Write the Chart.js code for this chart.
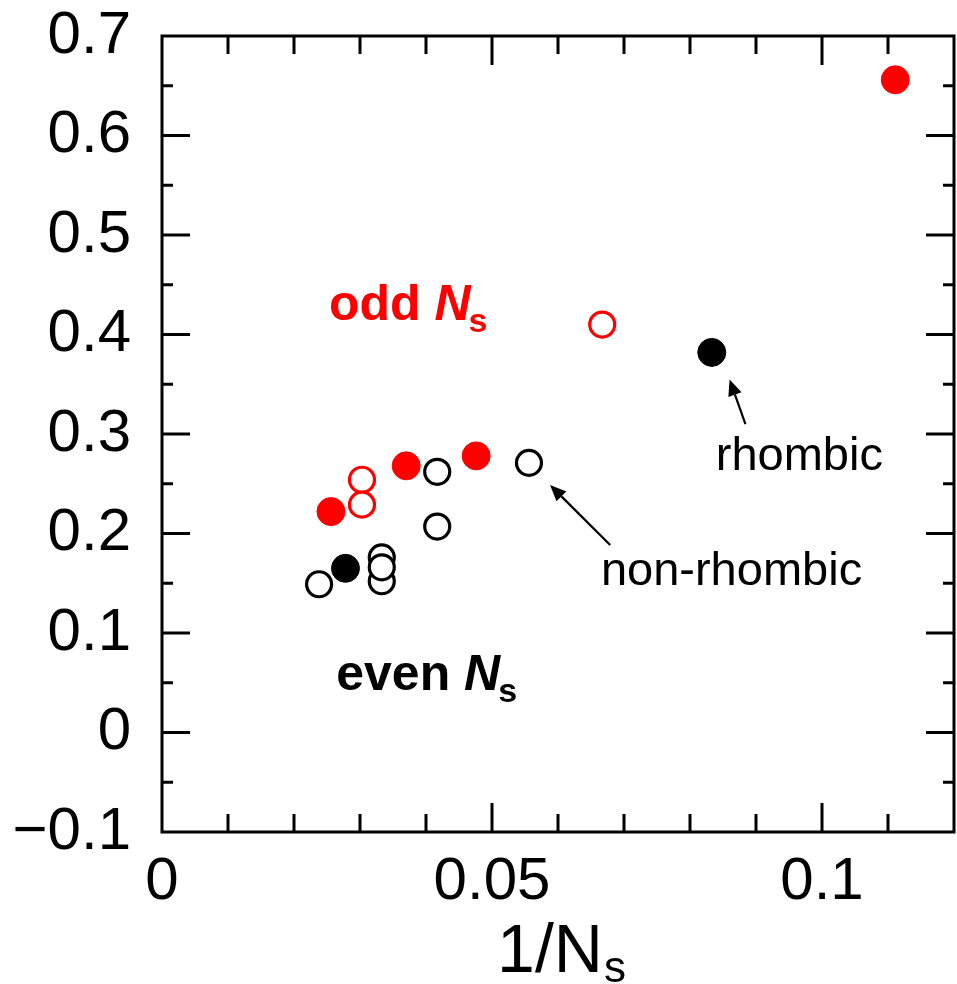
<!DOCTYPE html>
<html>
<head>
<meta charset="utf-8">
<script src="https://cdn.jsdelivr.net/npm/chart.js@4.4.1/dist/chart.umd.min.js"></script>
<style>
  html, body { margin: 0; padding: 0; background: #fff; }
  #wrap { width: 957px; height: 984px; }
</style>
</head>
<body>
<div id="wrap"><canvas id="c" width="957" height="984"></canvas></div>
<script>
// 1/N_s values and gap values for each group of clusters
const oddFilledX  = [0.1111, 0.0256, 0.0370, 0.0476];
const oddFilledY  = [0.656, 0.222, 0.268, 0.278];
const oddOpenX    = [0.0667, 0.0303, 0.0303];
const oddOpenY    = [0.410, 0.254, 0.229];
const evenFilledX = [0.0833, 0.0278];
const evenFilledY = [0.382, 0.165];
const evenOpenX   = [0.0556, 0.0417, 0.0417, 0.0238, 0.0333, 0.0333, 0.0333];
const evenOpenY   = [0.271, 0.262, 0.207, 0.149, 0.176, 0.152, 0.166];

// axis ticks
const xTickValues = [0, 0.05, 0.1];
const xTickLabels = ['0', '0.05', '0.1'];
const yTickValues = [-0.1, 0, 0.1, 0.2, 0.3, 0.4, 0.5, 0.6, 0.7];
const yTickLabels = ['\u22120.1', '0', '0.1', '0.2', '0.3', '0.4', '0.5', '0.6', '0.7'];

const RED = '#ff0000';
const BLACK = '#000000';
const FONT = '"Liberation Sans", Arial, sans-serif';

const pts = (xs, ys) => xs.map((x, i) => ({ x: x, y: ys[i] }));

// frame with inward ticks on all four sides
const framePlugin = {
  id: 'frame',
  beforeDatasetsDraw(chart) {
    const { ctx, chartArea: a, scales: { x, y } } = chart;
    ctx.save();
    ctx.strokeStyle = '#000';
    ctx.lineWidth = 3;
    ctx.lineCap = 'butt';
    ctx.strokeRect(a.left, a.top, a.right - a.left, a.bottom - a.top);
    ctx.beginPath();
    for (let k = 1; k <= 11; k++) {
      const px = x.getPixelForValue(k / 100);
      const len = (k % 5 === 0) ? 29 : 18;
      ctx.moveTo(px, a.bottom); ctx.lineTo(px, a.bottom - len);
      ctx.moveTo(px, a.top); ctx.lineTo(px, a.top + len);
    }
    for (let k = -1; k <= 13; k++) {
      const py = y.getPixelForValue(k * 0.05);
      const len = (k % 2 === 0) ? 28 : 11;
      ctx.moveTo(a.left, py); ctx.lineTo(a.left + len, py);
      ctx.moveTo(a.right, py); ctx.lineTo(a.right - len, py);
    }
    ctx.stroke();
    ctx.restore();
  }
};

function arrow(ctx, x1, y1, x2, y2) {
  const ang = Math.atan2(y2 - y1, x2 - x1);
  const hl = 16, hw = 7;
  const bx = x2 - hl * Math.cos(ang), by = y2 - hl * Math.sin(ang);
  ctx.beginPath();
  ctx.moveTo(x1, y1); ctx.lineTo(bx, by);
  ctx.stroke();
  ctx.beginPath();
  ctx.moveTo(x2, y2);
  ctx.lineTo(bx + hw * Math.sin(ang), by - hw * Math.cos(ang));
  ctx.lineTo(bx - hw * Math.sin(ang), by + hw * Math.cos(ang));
  ctx.closePath();
  ctx.fill();
}

// group label such as "odd N_s": plain word, italic N, subscript s
function groupLabel(ctx, px, py, word, color) {
  ctx.fillStyle = color;
  ctx.textAlign = 'left';
  ctx.textBaseline = 'alphabetic';
  ctx.font = 'bold 50px ' + FONT;
  ctx.fillText(word + ' ', px, py);
  let cx = px + ctx.measureText(word + ' ').width;
  ctx.font = 'italic bold 50px ' + FONT;
  ctx.fillText('N', cx, py);
  cx += ctx.measureText('N').width;
  ctx.font = 'bold 34px ' + FONT;
  ctx.fillText('s', cx - 2, py + 12);
}

const labelPlugin = {
  id: 'labels',
  afterDraw(chart) {
    const { ctx, chartArea: a, scales: { x, y } } = chart;
    ctx.save();

    groupLabel(ctx, x.getPixelForValue(0.0253), y.getPixelForValue(0.4146), 'odd', RED);
    groupLabel(ctx, x.getPixelForValue(0.0264), y.getPixelForValue(0.0427), 'even', BLACK);

    // annotations
    ctx.fillStyle = '#000';
    ctx.font = '47px ' + FONT;
    ctx.textAlign = 'left';
    ctx.textBaseline = 'alphabetic';
    ctx.fillText('rhombic', x.getPixelForValue(0.0839), y.getPixelForValue(0.2638));
    ctx.fillText('non-rhombic', x.getPixelForValue(0.0665), y.getPixelForValue(0.148));

    ctx.strokeStyle = '#000';
    ctx.lineWidth = 2.2;
    arrow(ctx, x.getPixelForValue(0.0884), y.getPixelForValue(0.310),
               x.getPixelForValue(0.0860), y.getPixelForValue(0.3548));
    arrow(ctx, x.getPixelForValue(0.0679), y.getPixelForValue(0.1884),
               x.getPixelForValue(0.0588), y.getPixelForValue(0.2487));

    // x-axis title: 1/N_s
    const mainFont = '68px ' + FONT, sFont = '44px ' + FONT;
    ctx.font = mainFont;
    const w1 = ctx.measureText('1/N').width;
    ctx.font = sFont;
    const w2 = ctx.measureText('s').width;
    const cx = (a.left + a.right) / 2 - (w1 + w2) / 2 + 3;
    ctx.font = mainFont;
    ctx.fillText('1/N', cx, a.bottom + 140);
    ctx.font = sFont;
    ctx.fillText('s', cx + w1 + 1, a.bottom + 150);

    ctx.restore();
  }
};

const openStyle = (color) => ({
  pointRadius: 12.5,
  pointBorderWidth: 3.2,
  pointBorderColor: color,
  pointBackgroundColor: '#ffffff',
  pointHoverRadius: 12.5
});
const filledStyle = (color) => ({
  pointRadius: 14,
  pointBorderWidth: 1,
  pointBorderColor: color,
  pointBackgroundColor: color,
  pointHoverRadius: 14
});

const noPad = (s) => { s.paddingTop = 0; s.paddingBottom = 0; s.paddingLeft = 0; s.paddingRight = 0; };

new Chart(document.getElementById('c'), {
  type: 'scatter',
  data: {
    datasets: [
      Object.assign({ label: 'odd, filled', data: pts(oddFilledX, oddFilledY), order: 4 }, filledStyle(RED)),
      Object.assign({ label: 'even, filled', data: pts(evenFilledX, evenFilledY), order: 3 }, filledStyle(BLACK)),
      Object.assign({ label: 'odd, open', data: pts(oddOpenX, oddOpenY), order: 2 }, openStyle(RED)),
      Object.assign({ label: 'even, open', data: pts(evenOpenX, evenOpenY), order: 1 }, openStyle(BLACK))
    ]
  },
  options: {
    responsive: false,
    animation: false,
    devicePixelRatio: 1,
    layout: { autoPadding: false, padding: { top: 36, right: 3, left: 0, bottom: 0 } },
    plugins: {
      legend: { display: false },
      tooltip: { enabled: false },
      title: { display: false }
    },
    scales: {
      x: {
        type: 'linear',
        min: 0,
        max: 0.12,
        grid: { display: false, drawTicks: false },
        border: { display: false },
        afterBuildTicks: (s) => { s.ticks = xTickValues.map(v => ({ value: v })); },
        afterFit: (s) => { s.height = 152; noPad(s); },
        ticks: {
          padding: 14,
          color: '#000',
          font: { family: FONT, size: 60 },
          maxRotation: 0,
          autoSkip: false,
          callback: (v) => xTickLabels[xTickValues.findIndex(t => Math.abs(t - v) < 1e-9)]
        }
      },
      y: {
        type: 'linear',
        min: -0.1,
        max: 0.7,
        grid: { display: false, drawTicks: false },
        border: { display: false },
        afterBuildTicks: (s) => { s.ticks = yTickValues.map(v => ({ value: v })); },
        afterFit: (s) => { s.width = 162; noPad(s); },
        ticks: {
          padding: 31,
          color: '#000',
          font: { family: FONT, size: 60 },
          autoSkip: false,
          callback: (v) => yTickLabels[yTickValues.findIndex(t => Math.abs(t - v) < 1e-9)]
        }
      }
    }
  },
  plugins: [framePlugin, labelPlugin]
});
</script>
</body>
</html>
